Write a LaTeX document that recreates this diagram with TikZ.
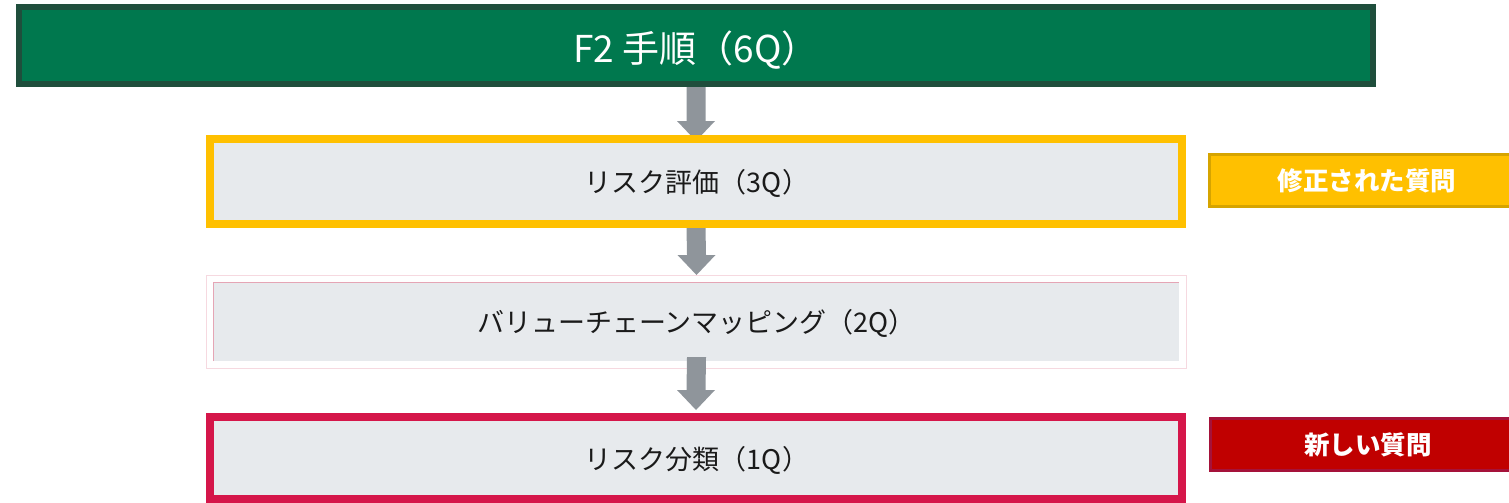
\documentclass[tikz,border=0pt]{standalone}
\usepackage{fontspec}
\newfontfamily\jp{Noto Sans CJK JP}
\usetikzlibrary{calc}
\definecolor{hdrfill}{HTML}{00784E}
\definecolor{hdrline}{HTML}{1F4E3C}
\definecolor{gold}{HTML}{FFC000}
\definecolor{goldline}{HTML}{D6A400}
\definecolor{boxfill}{HTML}{E7EAED}
\definecolor{crimson}{HTML}{D5164A}
\definecolor{redfill}{HTML}{C00000}
\definecolor{redline}{HTML}{A5123A}
\definecolor{arrowc}{HTML}{8F959B}
\definecolor{pinkout}{HTML}{F6D9E0}
\definecolor{pinkin}{HTML}{E5A5B5}
\definecolor{txt}{HTML}{1A1A1A}
\tikzset{
  every node/.style={inner sep=0pt, font=\jp},
  hdrbox/.style={draw=hdrline, fill=hdrfill, line width=6pt, minimum width=1354pt, minimum height=77pt,
    text=white, font=\jp\fontsize{37}{42}\selectfont},
  stepbox/.style={line width=8pt, fill=boxfill, minimum width=972pt, text=txt,
    font=\jp\fontsize{27}{31}\selectfont},
  tagbox/.style={line width=3pt, minimum width=315pt, minimum height=52pt, text=white,
    font=\jp\bfseries\fontsize{25.5}{29}\selectfont},
  blockarrow/.style={fill=arrowc}
}
\begin{document}
\begin{tikzpicture}[x=1pt,y=-1pt]
\useasboundingbox (0,0) rectangle (1509,503);
% header
\node[hdrbox] (hdr) at (696,45.5) {};
\node[text=white, font=\jp\fontsize{37}{42}\selectfont] (hdrt) at (696,50) {F2 手順（6Q）};
% step 1 box (drawn after its arrow)
\path (696,181.5) node[stepbox, draw=gold, minimum height=85pt] (b1) {};
\fill[blockarrow] ($(hdr.south)+(-9.5,0)$) -- ($(b1.north)+(-9.5,-14)$) -- ($(b1.north)+(-19,-14)$)
  -- ($(b1.north)+(0,6)$) -- ($(b1.north)+(19,-14)$) -- ($(b1.north)+(9.5,-14)$) -- ($(hdr.south)+(9.5,0)$) -- cycle;
\node[stepbox, draw=gold, minimum height=85pt] (b1) at (696,181.5) {};
\node[text=txt, font=\jp\fontsize{27}{31}\selectfont] (b1t) at (697,183) {リスク評価（3Q）};
% tag 1
\node[tagbox, draw=goldline, fill=gold] (t1) at (1367,180.5) {修正された質問};
% step 2
\node[draw=pinkout, line width=1pt, fill=white, minimum width=980pt, minimum height=93pt] (b2o) at (696.5,322) {};
\node[fill=boxfill, minimum width=965pt, minimum height=78pt] (b2) at (696.5,322) {};
\node[text=txt, font=\jp\fontsize{27}{31}\selectfont] (b2t) at (696.5,323.5) {バリューチェーンマッピング（2Q）};
\draw[pinkin, line width=1pt] (b2.south west) -- (b2.north west) -- (b2.north east);
\fill[blockarrow] ($(b1.south)+(-9.5,0)$) -- ($(b2o.north)+(-9.5,-20)$) -- ($(b2o.north)+(-19,-20)$)
  -- (b2o.north) -- ($(b2o.north)+(19,-20)$) -- ($(b2o.north)+(9.5,-20)$) -- ($(b1.south)+(9.5,0)$) -- cycle;
% step 3
\path (696,458) node[stepbox, draw=crimson, minimum height=82pt] (b3) {};
\fill[blockarrow] ($(b2.south)+(-9.5,-4)$) -- ($(b3.north)+(-9.5,-23)$) -- ($(b3.north)+(-19,-23)$)
  -- ($(b3.north)+(0,-3)$) -- ($(b3.north)+(19,-23)$) -- ($(b3.north)+(9.5,-23)$) -- ($(b2.south)+(9.5,-4)$) -- cycle;
\node[stepbox, draw=crimson, minimum height=82pt] (b3) at (696,458) {};
\node[text=txt, font=\jp\fontsize{27}{31}\selectfont] (b3t) at (697,460) {リスク分類（1Q）};
% tag 2
\node[tagbox, draw=redline, fill=redfill] (t2) at (1368,444.5) {新しい質問};
\end{tikzpicture}
\end{document}
